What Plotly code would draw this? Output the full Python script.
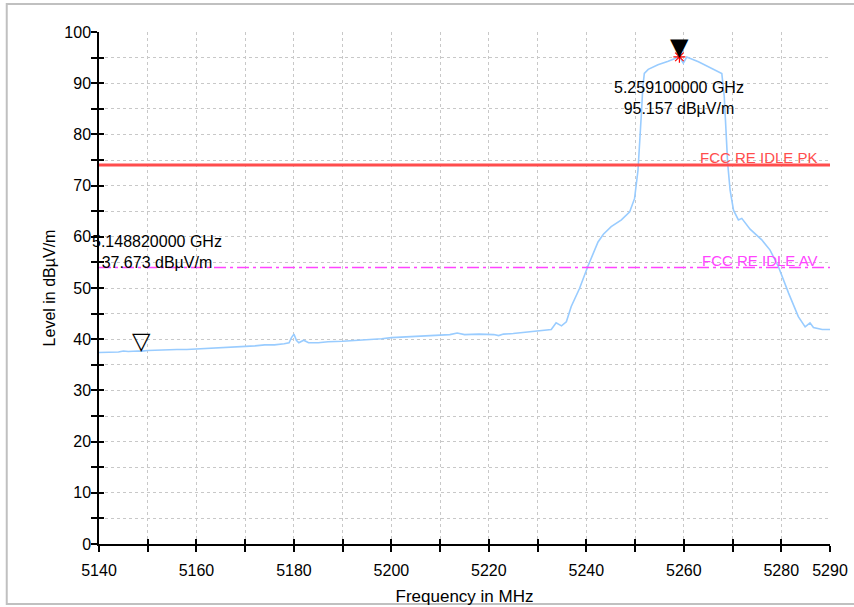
import plotly.graph_objects as go

# ---- data ----
freq_mhz = [5140.0, 5142.0, 5144.0, 5145.0, 5146.0, 5148.0, 5148.82, 5150.0, 5152.0, 5154.0,
            5156.0, 5158.0, 5160.0, 5162.0, 5164.0, 5166.0, 5168.0, 5170.0, 5172.0, 5174.0,
            5176.0, 5178.0, 5179.0, 5179.5, 5180.0, 5180.5, 5181.0, 5182.0, 5183.0, 5185.0,
            5187.0, 5190.0, 5192.0, 5194.0, 5196.0, 5198.0, 5200.0, 5202.0, 5204.0, 5206.0,
            5208.0, 5210.0, 5212.0, 5213.5, 5215.0, 5218.0, 5221.0, 5222.0, 5223.0, 5225.0,
            5227.0, 5229.0, 5231.0, 5232.8, 5233.8, 5234.9, 5235.9, 5236.9, 5238.6, 5240.3,
            5242.4, 5243.5, 5245.1, 5247.2, 5248.9, 5249.9, 5250.6, 5250.9, 5251.3, 5251.6,
            5251.9, 5252.7, 5254.7, 5256.8, 5258.0, 5259.1, 5259.9, 5260.6, 5263.0, 5265.8,
            5267.8, 5268.3, 5268.6, 5269.0, 5269.5, 5270.2, 5271.2, 5271.9, 5273.6, 5276.0,
            5277.7, 5279.4, 5281.5, 5283.5, 5284.9, 5285.9, 5286.6, 5288.4, 5290.0]
level_dbuv = [37.4, 37.4, 37.5, 37.7, 37.6, 37.7, 37.673, 37.8, 37.9, 37.9,
              38.0, 38.0, 38.1, 38.2, 38.2, 38.3, 38.5, 38.6, 38.7, 38.9,
              38.9, 39.1, 39.3, 40.3, 41.0, 39.8, 39.3, 39.8, 39.3, 39.3,
              39.5, 39.6, 39.7, 39.9, 40.0, 40.1, 40.3, 40.4, 40.5, 40.6,
              40.8, 40.8, 40.9, 41.2, 40.9, 41.0, 40.9, 40.7, 41.0, 41.1,
              41.3, 41.4, 41.6, 41.9, 43.2, 42.6, 43.4, 46.4, 49.9, 54.2,
              59.0, 60.5, 62.0, 63.3, 64.9, 67.5, 73.0, 78.9, 84.1, 89.3,
              91.9, 92.7, 93.6, 94.3, 94.8, 95.157, 93.9, 95.1, 94.2, 92.9,
              91.9, 87.4, 80.9, 74.4, 69.1, 65.2, 63.3, 63.6, 61.5, 59.4,
              57.4, 54.2, 49.0, 44.4, 42.4, 43.2, 42.3, 41.9, 41.9]

limit_names = ["FCC RE IDLE PK", "FCC RE IDLE AV"]
limit_levels = [74, 54]
limit_colors = ["#ff4d4d", "#ff44ff"]

marker_freqs = [5259.1, 5148.82]
marker_levels = [95.157, 37.673]
marker_labels = ["5.259100000 GHz<br>95.157 dBµV/m", "5.148820000 GHz<br>37.673 dBµV/m"]

x_range = [5140, 5290]
y_range = [0, 100]
x_tickvals = [5140, 5150, 5160, 5170, 5180, 5190, 5200, 5210, 5220, 5230,
              5240, 5250, 5260, 5270, 5280, 5290]
x_ticktext = ["5140", "", "5160", "", "5180", "", "5200", "", "5220", "",
              "5240", "", "5260", "", "5280", "5290"]
y_tickvals = [0, 5, 10, 15, 20, 25, 30, 35, 40, 45, 50, 55, 60, 65, 70, 75, 80, 85, 90, 95, 100]
y_ticktext = ["0", "", "10", "", "20", "", "30", "", "40", "", "50", "", "60", "", "70", "",
              "80", "", "90", "", "100"]

FONT = "Arial, Liberation Sans, sans-serif"

fig = go.Figure()

# spectrum trace
fig.add_trace(go.Scatter(x=freq_mhz, y=level_dbuv, mode="lines",
                         line=dict(color="#99ccff", width=1.6),
                         showlegend=False, hoverinfo="skip"))

# limit lines
for name, lvl, col, dash, w in zip(limit_names, limit_levels, limit_colors,
                                   ["solid", "12px,4px,3px,4px"], [3, 1.6]):
    fig.add_trace(go.Scatter(x=x_range, y=[lvl, lvl], mode="lines",
                             line=dict(color=col, width=w, dash=dash),
                             showlegend=False, hoverinfo="skip"))
    fig.add_annotation(x=5288, y=lvl, text=name, showarrow=False,
                       xanchor="right", yanchor="bottom", yshift=-3,
                       font=dict(family=FONT, size=15, color=col))

# peak asterisk
fig.add_trace(go.Scatter(x=[marker_freqs[0]], y=[marker_levels[0]], mode="markers",
                         marker=dict(symbol="asterisk-open", size=10, color="#ff0000",
                                     line=dict(color="#ff0000", width=1.2)),
                         showlegend=False, hoverinfo="skip"))

# invisible trace for overlay axes (inside ticks)
fig.add_trace(go.Scatter(x=x_range, y=y_range, xaxis="x2", yaxis="y2", mode="markers",
                         marker=dict(opacity=0), showlegend=False, hoverinfo="skip"))

# marker triangles
for f, l, glyph in zip(marker_freqs, marker_levels, ["▼", "▽"]):
    fig.add_annotation(x=f, y=l, text=glyph, showarrow=False,
                       xanchor="center", yanchor="bottom", yshift=-6,
                       font=dict(family="DejaVu Sans", size=24, color="black"))

# marker labels
fig.add_annotation(x=marker_freqs[0], y=marker_levels[0], text=marker_labels[0],
                   showarrow=False, xanchor="center", yanchor="middle", yshift=-41,
                   font=dict(family=FONT, size=16, color="black"))
fig.add_annotation(x=marker_freqs[1], y=marker_levels[1], text=marker_labels[1],
                   showarrow=False, xanchor="center", yanchor="middle", yshift=99, xshift=15,
                   font=dict(family=FONT, size=16, color="black"))

grid = dict(showgrid=True, gridcolor="#c8c8c8", gridwidth=1, griddash="3px,3px")

fig.update_layout(
    width=860, height=615,
    margin=dict(l=99, r=28, t=32, b=69),
    paper_bgcolor="white", plot_bgcolor="white",
    font=dict(family=FONT, size=16, color="black"),
    xaxis=dict(range=x_range, tickmode="array", tickvals=x_tickvals, ticktext=x_ticktext,
               ticks="outside", ticklen=6, tickwidth=1.5, tickcolor="black",
               showline=True, linecolor="black", linewidth=1.5, zeroline=False,
               ticklabelstandoff=5,
               tickfont=dict(size=16),
               title=dict(text="Frequency in MHz", font=dict(size=17), standoff=12),
               **grid),
    yaxis=dict(range=y_range, tickmode="array", tickvals=y_tickvals, ticktext=y_ticktext,
               ticks="outside", ticklen=6, tickwidth=1.5, tickcolor="black",
               showline=True, linecolor="black", linewidth=1.5, zeroline=False,
               ticklabelstandoff=-3,
               tickfont=dict(size=16),
               title=dict(text="Level in dBµV/m", font=dict(size=16), standoff=5),
               **grid),
    xaxis2=dict(range=x_range, overlaying="x", anchor="y2", tickmode="array",
                tickvals=x_tickvals, ticks="inside", ticklen=5, tickwidth=1.5,
                tickcolor="black", showticklabels=False, showgrid=False, zeroline=False,
                showline=False),
    yaxis2=dict(range=y_range, overlaying="y", anchor="x2", side="left", tickmode="array",
                tickvals=y_tickvals, ticks="inside", ticklen=5, tickwidth=1.5,
                tickcolor="black", showticklabels=False, showgrid=False, zeroline=False,
                showline=False),
    shapes=[dict(type="rect", xref="paper", yref="paper",
                 x0=-0.1262, x1=1.05, y0=-0.1172, y1=1.0547,
                 line=dict(color="#c0c0c0", width=2), fillcolor="rgba(0,0,0,0)",
                 layer="below")],
)

fig.write_html("out.html", config={"displayModeBar": False},
               post_script="document.body.style.margin='0';document.body.style.overflow='hidden';")
